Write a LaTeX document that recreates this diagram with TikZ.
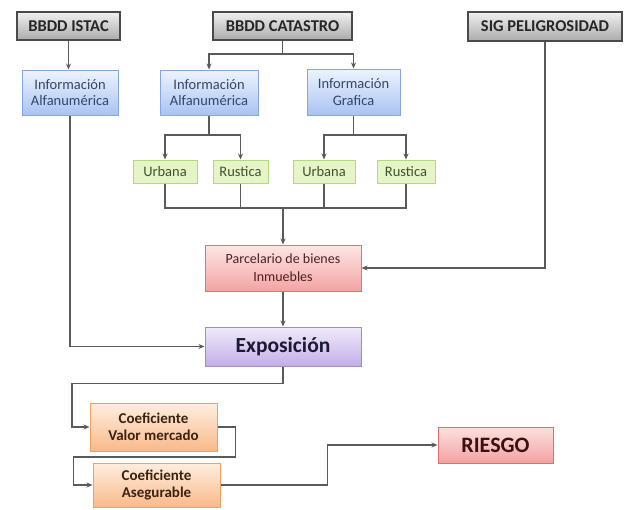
\documentclass[tikz,border=0pt]{standalone}
\usepackage{fontspec}
\setmainfont{Carlito}
\usetikzlibrary{arrows.meta,shadows}
\definecolor{lnc}{HTML}{5A5A5A}
\definecolor{grtop}{HTML}{F0F0F0}\definecolor{grbot}{HTML}{ABABAB}\definecolor{grbd}{HTML}{4A4A4A}
\definecolor{bltop}{HTML}{EEF3FD}\definecolor{blbot}{HTML}{A9C3F3}\definecolor{blbd}{HTML}{86A6E2}\definecolor{bltx}{HTML}{34466A}
\definecolor{gnfill}{HTML}{E6F5C6}\definecolor{gnbd}{HTML}{B2D97E}\definecolor{gntx}{HTML}{3E5230}
\definecolor{pktop}{HTML}{FDE6E6}\definecolor{pkbot}{HTML}{F4A3A3}\definecolor{pkbd}{HTML}{DC7676}\definecolor{pktx}{HTML}{4A2020}
\definecolor{putop}{HTML}{F1EBFA}\definecolor{pubot}{HTML}{C2AEE8}\definecolor{pubd}{HTML}{A08CCC}\definecolor{putx}{HTML}{1E1830}
\definecolor{ortop}{HTML}{FEEEDF}\definecolor{orbot}{HTML}{F9B98A}\definecolor{orbd}{HTML}{F0A060}\definecolor{ortx}{HTML}{3A2212}
\definecolor{rstop}{HTML}{FCE0E0}\definecolor{rsbot}{HTML}{F2A2A2}\definecolor{rsbd}{HTML}{D87272}\definecolor{rstx}{HTML}{3A1010}
\tikzset{
  base/.style={draw, line width=1pt, inner sep=0pt, align=center, drop shadow={shadow xshift=1.2pt, shadow yshift=-1.2pt, opacity=0.25}},
  graybox/.style={base, draw=grbd, line width=1.4pt, top color=grtop, bottom color=grbot, font=\fontsize{16.5}{18}\selectfont\bfseries, text=black!85},
  bluebox/.style={base, draw=blbd, top color=bltop, bottom color=blbot, font=\fontsize{14.5}{16.5}\selectfont, text=bltx},
  greenbox/.style={base, draw=gnbd, fill=gnfill, font=\fontsize{14.5}{16}\selectfont, text=gntx},
  pinkbox/.style={base, draw=pkbd, top color=pktop, bottom color=pkbot, font=\fontsize{14}{18}\selectfont, text=pktx},
  purplebox/.style={base, draw=pubd, top color=putop, bottom color=pubot, font=\fontsize{21.5}{23}\selectfont\bfseries, text=putx},
  orangebox/.style={base, draw=orbd, top color=ortop, bottom color=orbot, font=\fontsize{15}{17.5}\selectfont\bfseries, text=ortx},
  riesgobox/.style={base, draw=rsbd, top color=rstop, bottom color=rsbot, font=\fontsize{22}{24}\selectfont\bfseries, text=rstx},
  conn/.style={draw=lnc, line width=1.1pt},
  arr/.style={conn, -{Stealth[length=6pt,width=5pt]}}
}
\begin{document}
\begin{tikzpicture}[x=1pt,y=-1pt]
\useasboundingbox (0,0) rectangle (628,509);
% top row
\node[graybox, minimum width=103pt, minimum height=28pt] (istac) at (68.5,26) {BBDD ISTAC};
\node[graybox, minimum width=139pt, minimum height=28pt] (catastro) at (282.5,26) {BBDD CATASTRO};
\node[graybox, minimum width=154pt, minimum height=29pt] (sig) at (545,26.5) {SIG PELIGROSIDAD};
% info row
\node[bluebox, minimum width=96pt, minimum height=45pt] (infoA1) at (70,92.5) {Información\\Alfanumérica};
\node[bluebox, minimum width=98pt, minimum height=45pt] (infoA2) at (209,92.5) {Información\\Alfanumérica};
\node[bluebox, minimum width=93pt, minimum height=46pt] (infoG) at (353.5,92) {Información\\Grafica};
% green row
\node[greenbox, minimum width=64pt, minimum height=23pt] (urb1) at (165,171.5) {Urbana};
\node[greenbox, minimum width=55pt, minimum height=23pt] (rus1) at (240.5,171.5) {Rustica};
\node[greenbox, minimum width=62pt, minimum height=23pt] (urb2) at (324,171.5) {Urbana};
\node[greenbox, minimum width=58pt, minimum height=23pt] (rus2) at (406,171.5) {Rustica};
% parcel & expo
\node[pinkbox, minimum width=156pt, minimum height=46pt] (parcel) at (283,268) {Parcelario de bienes\\Inmuebles};
\node[purplebox, minimum width=156pt, minimum height=39pt] (expo) at (283,346.5) {Exposición};
% coefficients
\node[orangebox, minimum width=127pt, minimum height=48pt] (coef1) at (153.5,427) {Coeficiente\\Valor mercado};
\node[orangebox, minimum width=127pt, minimum height=44pt] (coef2) at (156.5,485) {Coeficiente\\Asegurable};
\node[riesgobox, minimum width=115pt, minimum height=36pt] (riesgo) at (495.5,445) {RIESGO};
% junction coordinates
\coordinate (cj) at (282.5,54);
\coordinate (aj) at (209,135);
\coordinate (gj) at (353.5,135);
\coordinate (bj) at (283,208);
% connectors
\draw[arr] (istac.south) -- (istac.south |- infoA1.north);
\draw[conn] (catastro.south) -- (cj);
\draw[arr] (cj) -| (infoA2.north);
\draw[arr] (cj) -| (infoG.north);
\draw[conn] (infoA2.south) -- (aj);
\draw[arr] (aj) -| (urb1.north);
\draw[arr] (aj) -| (rus1.north);
\draw[conn] (infoG.south) -- (gj);
\draw[arr] (gj) -| (urb2.north);
\draw[arr] (gj) -| (rus2.north);
\draw[conn] (urb1.south) |- (bj) -| (rus2.south);
\draw[conn] (rus1.south) -- (rus1.south |- bj);
\draw[conn] (urb2.south) -- (urb2.south |- bj);
\draw[arr] (bj) -- (parcel.north);
\draw[arr] (sig.south) |- (parcel.east);
\draw[arr] (parcel.south) -- (expo.north);
\draw[arr] (infoA1.south) |- (expo.west);
\draw[arr] (expo.south) -- ++(0,17) -- ++(-211,0) |- (coef1.west);
\draw[arr] (coef1.east) -- ++(18,0) -- ++(0,30) -- ++(-162,0) |- (coef2.west);
\draw[arr] (coef2.east) -- ++(107,0) |- (riesgo.west);
\end{tikzpicture}
\end{document}
